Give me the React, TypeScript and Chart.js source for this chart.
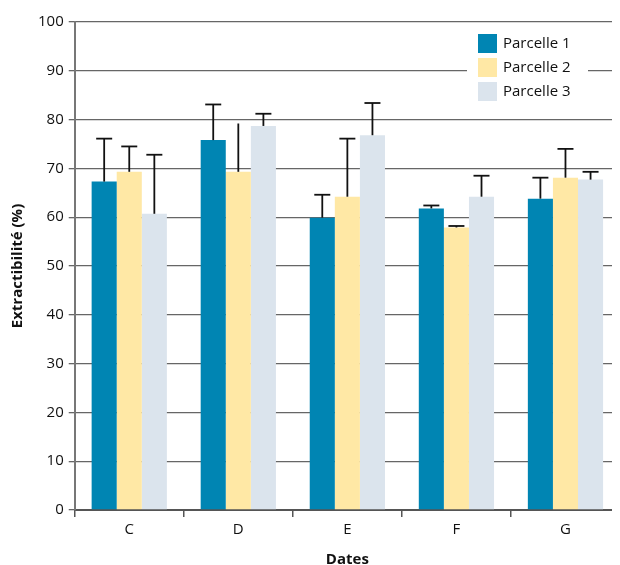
import React, { useEffect, useRef } from "react";
import { Chart, registerables } from "chart.js";

Chart.register(...registerables);

const categories = ["C", "D", "E", "F", "G"];
const seriesNames = ["Parcelle 1", "Parcelle 2", "Parcelle 3"];
const parcelle1 = [67.3, 75.8, 59.9, 61.8, 63.8];
const parcelle2 = [69.3, 69.3, 64.2, 57.9, 68.1];
const parcelle3 = [60.7, 78.7, 76.8, 64.2, 67.7];
const err1 = [8.8, 7.3, 4.7, 0.6, 4.3];
const err2 = [5.2, 9.9, 11.9, 0.3, 5.9];
const err3 = [12.1, 2.5, 6.6, 4.3, 1.6];
const yTicks = [0, 10, 20, 30, 40, 50, 60, 70, 80, 90, 100];
const noCap = [[1, 1]]; // [datasetIndex, categoryIndex] drawn without a cap

const colors = ["#0085B3", "#FFE8A5", "#DBE4ED"];
const FONT = "'Open Sans', sans-serif";

const errorBarPlugin = {
  id: "errorBars",
  afterDatasetsDraw(chart: any) {
    const ctx = chart.ctx;
    const yScale = chart.scales.y;
    ctx.save();
    ctx.strokeStyle = "#111";
    ctx.lineWidth = 1.8;
    chart.data.datasets.forEach((ds: any, di: number) => {
      const meta = chart.getDatasetMeta(di);
      meta.data.forEach((el: any, i: number) => {
        const v = ds.data[i];
        const e = ds.errors[i];
        const yTop = yScale.getPixelForValue(v + e);
        ctx.beginPath();
        ctx.moveTo(el.x, el.y);
        ctx.lineTo(el.x, yTop);
        ctx.stroke();
        const hide = noCap.some((p) => p[0] === di && p[1] === i);
        if (!hide) {
          ctx.beginPath();
          ctx.moveTo(el.x - 8, yTop);
          ctx.lineTo(el.x + 8, yTop);
          ctx.stroke();
        }
      });
    });
    ctx.restore();
  },
};

const legendPlugin = {
  id: "insideLegend",
  afterDraw(chart: any) {
    const ctx = chart.ctx;
    ctx.save();
    ctx.fillStyle = "#fff";
    ctx.fillRect(467, 28, 121, 80);
    ctx.font = `15px ${FONT}`;
    ctx.textBaseline = "middle";
    chart.data.datasets.forEach((ds: any, i: number) => {
      const y = 34 + i * 24;
      ctx.fillStyle = ds.backgroundColor;
      ctx.fillRect(478, y, 19, 19);
      ctx.fillStyle = "#111";
      ctx.fillText(ds.label, 503, y + 10);
    });
    ctx.restore();
  },
};

export default function App() {
  const ref = useRef<HTMLCanvasElement | null>(null);
  useEffect(() => {
    if (!ref.current) return;
    const chart = new Chart(ref.current, {
      type: "bar",
      data: {
        labels: categories,
        datasets: [
          { label: seriesNames[0], data: parcelle1, errors: err1, backgroundColor: colors[0] },
          { label: seriesNames[1], data: parcelle2, errors: err2, backgroundColor: colors[1] },
          { label: seriesNames[2], data: parcelle3, errors: err3, backgroundColor: colors[2] },
        ] as any,
      },
      options: {
        animation: false,
        responsive: false,
        layout: { padding: { top: 22, right: -8, left: 9, bottom: -4 } },
        datasets: { bar: { categoryPercentage: 0.69, barPercentage: 1.0 } },
        plugins: { legend: { display: false }, tooltip: { enabled: false } },
        scales: {
          x: {
            grid: { offset: true, drawOnChartArea: false, drawTicks: true, tickLength: 7, color: "#555", lineWidth: 1.5 },
            border: { color: "#555", width: 2 },
            ticks: { color: "#111", font: { family: FONT, size: 15 }, padding: 4 },
            title: { display: true, text: "Dates", color: "#111", font: { family: FONT, size: 15, weight: "bold" }, padding: { top: 8, bottom: 0 } },
          },
          y: {
            min: 0,
            max: 100,
            afterBuildTicks: (axis: any) => {
              axis.ticks = yTicks.map((v) => ({ value: v }));
            },
            grid: { color: "#666", lineWidth: 1.3, tickLength: 6 },
            border: { color: "#777", width: 2 },
            ticks: { color: "#111", font: { family: FONT, size: 15 }, padding: 5 },
            title: { display: true, text: "Extractibilité (%)", color: "#111", font: { family: FONT, size: 15, weight: "bold" }, padding: { top: 0, bottom: 6 } },
          },
        },
      } as any,
      plugins: [errorBarPlugin, legendPlugin],
    });
    return () => chart.destroy();
  }, []);
  return (
    <div style={{ marginLeft: -8, marginTop: -8, width: 620, height: 565 }}>
      <canvas ref={ref} width={620} height={565} style={{ display: "block" }} />
    </div>
  );
}
